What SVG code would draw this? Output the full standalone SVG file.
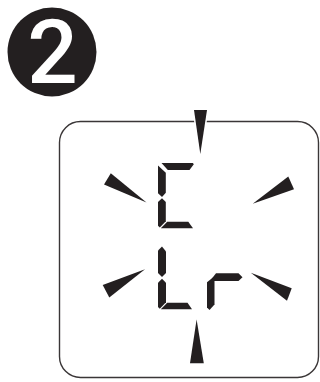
<svg xmlns="http://www.w3.org/2000/svg" width="320" height="382" viewBox="0 0 320 382">
<style>
.ink{fill:#231f20}
.seg{fill:#231f20}
.ray{fill:#231f20}
.frame{fill:none;stroke:#3a3637;stroke-width:1.4}
</style>
<rect width="320" height="382" fill="#ffffff"/>
<g id="badge">
<circle class="ink" cx="52" cy="52" r="44.5"/>
<text x="52.5" y="82.5" text-anchor="middle" font-family="Roboto, Liberation Sans, sans-serif" font-weight="500" font-size="89" fill="#ffffff">2</text>
</g>
<g id="display">
<rect class="frame" x="59.5" y="121.5" width="259" height="256" rx="21" ry="21"/>
</g>
<g id="rays">
<polygon class="ray" points="194,110 207,110 200.3,154" stroke="#ffffff" stroke-width="3" paint-order="stroke"/>
<polygon class="ray" points="196.6,319.5 190,363.3 203.8,363.3"/>
<polygon class="ray" points="104,184.5 110.8,173.3 146.5,202.5"/>
<polygon class="ray" points="252.7,203.8 288.3,176.4 294,189.3"/>
<polygon class="ray" points="145,269.2 102.7,285 109.3,297.5"/>
<polygon class="ray" points="250.8,272.8 291.7,288.3 287,300.7"/>
</g>
<g id="digit-C">
<polygon class="seg" points="161.5,163 192.8,163 193.8,164.3 189.5,170 167.8,170"/>
<polygon class="seg" points="158,165.5 165.8,172.8 165.8,192.8 162,197 158,193.2"/>
<polygon class="seg" points="162,198.2 165.8,202 165.8,221.3 159.8,227.6 158,225.8 158,202"/>
<polygon class="seg" points="167.2,221.7 188.3,221.7 193,228.3 160.8,228.3"/>
</g>
<g id="digit-L">
<polygon class="seg" points="162,246.6 166,251.5 166,273 162,277 158,273 158,250.5"/>
<polygon class="seg" points="162,278.8 166,282.8 166,302.3 159.8,308.7 158,306.9 158,282.8"/>
<polygon class="seg" points="167.2,302.7 187.5,302.7 192,309.3 160.8,309.3"/>
</g>
<g id="digit-r">
<polygon class="seg" points="216,273.3 238.5,273.3 242.5,277.2 238.5,281 210,281"/>
<polygon class="seg" points="207,282.3 214.5,276.3 214.5,304.5 209.5,310 207,307.5"/>
</g>
</svg>
